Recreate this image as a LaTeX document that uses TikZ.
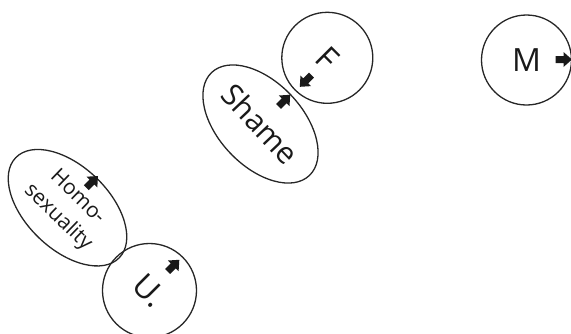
\documentclass[tikz,border=0pt]{standalone}
\usepackage{fontspec}
\setmainfont{Open Sans}
\usetikzlibrary{shapes.geometric}
\begin{document}
\begin{tikzpicture}[x=1pt,y=-1pt,
  ring/.style={circle, draw=black!85, line width=1.3pt, inner sep=0pt, minimum size=#1, text=black!90},
  oval/.style={ellipse, draw=black!85, line width=1.3pt, inner sep=0pt, text=black!90, align=center},
  lettertext/.style={font=\fontsize{32}{38}\selectfont},
  bigtext/.style={font=\fontsize{30}{36}\selectfont},
  smalltext/.style={font=\fontsize{21}{28}\selectfont},
  blockarrow/.pic={\fill[black!90] (-8,-3.5) -- (0,-3.5) -- (0,-7.5) -- (8.5,0) -- (0,7.5) -- (0,3.5) -- (-8,3.5) -- cycle;}
]
\useasboundingbox (0,0) rectangle (571,333);
% circles
\node[ring=90pt, lettertext] (M) at (526.5,60) {M};
\node[ring=91pt, lettertext, rotate=-45] (F) at (327.3,57.8) {F};
\node[ring=94pt, lettertext, rotate=-45] (U) at (149.5,290.5) {U.};
% ellipses
\node[oval, bigtext, rotate=-46.5, minimum width=142pt, minimum height=84pt] (shame) at (260.5,124) {Shame};
\node[oval, smalltext, rotate=-44, minimum width=144pt, minimum height=83pt] (homo) at (67.5,207.7) {Homo-\\sexuality};
% block arrows
\pic at (563.5,59.5) {blockarrow};
\pic[rotate=-135] at (305.8,80.8) {blockarrow};
\pic[rotate=45] at (284.2,100.8) {blockarrow};
\pic[rotate=45] at (92,182) {blockarrow};
\pic[rotate=45] at (173.3,265.8) {blockarrow};
\end{tikzpicture}
\end{document}
